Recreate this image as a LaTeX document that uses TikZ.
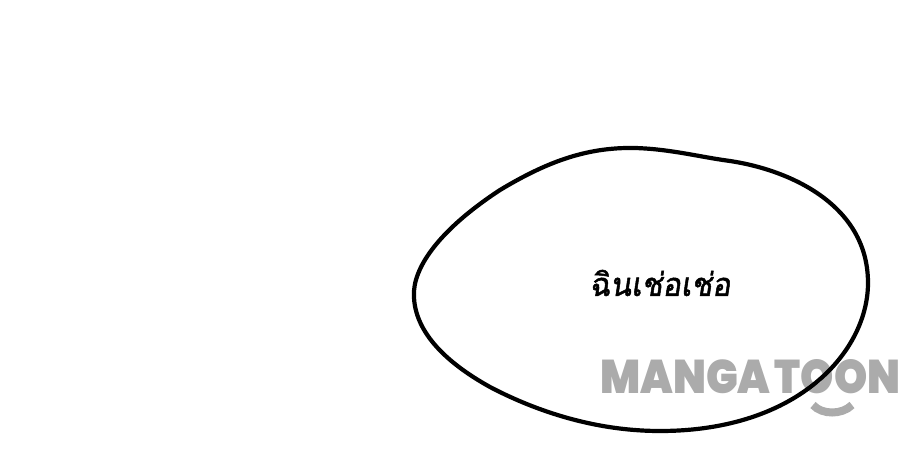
\documentclass[tikz,border=0pt]{standalone}
\usepackage{fontspec}
\setmainfont{Liberation Sans}
\newfontfamily\thaifont[Script=Thai,FakeSlant=0.16,FakeBold=1.6]{Loma}
\newfontfamily\markfont{Poppins Black}
\usepackage{graphicx}
\definecolor{markgray}{HTML}{ABABAB}
\tikzset{
  blob/.style={draw=black,line width=4.2pt,line join=round},
  marktext/.style={inner sep=0pt,text=markgray,anchor=west},
  speech/.style={inner sep=0pt,text=black,font=\thaifont\fontsize{33}{36}\selectfont}
}
\begin{document}
\begin{tikzpicture}[x=1pt,y=-1pt]
\useasboundingbox (0,0) rectangle (900,468);
\fill[white] (0,0) rectangle (900,468);
\node[marktext] (wm) at (600,376.5) {\resizebox{300pt}{34pt}{\markfont MANGA\kern1pt TOON}};
\draw[markgray,line width=8pt] (813,405) .. controls (822,415) and (842,415) .. (852,405);
\draw[blob] (414,291) .. controls (416,262) and (445,226) .. (500,190)
  .. controls (545,163) and (585,147) .. (635,148)
  .. controls (670,149) and (700,157) .. (730,161)
  .. controls (790,170) and (868,205) .. (868,283)
  .. controls (868,350) and (800,431) .. (660,431)
  .. controls (590,431) and (530,408) .. (490,387)
  .. controls (445,362) and (412,330) .. (414,291) -- cycle;
\node[speech,yscale=1.06] (t) at (660,283) {\resizebox{141pt}{!}{ฉินเช่อเช่อ}};
\end{tikzpicture}
\end{document}
